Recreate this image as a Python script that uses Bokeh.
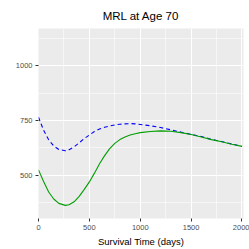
from bokeh.plotting import figure
from bokeh.models import Range1d, FixedTicker
from bokeh.embed import file_html
from bokeh.resources import INLINE

times = [0, 50, 100, 150, 200, 263, 300, 350, 400, 450, 500, 550, 600, 650, 700,
         750, 800, 850, 900, 950, 1000, 1100, 1200, 1300, 1400, 1500, 1600, 1700,
         1800, 1900, 2000]
mrl_dashed = [765, 706, 662, 634, 618, 612, 617, 630, 648, 668, 684, 700, 711, 719, 725,
              730, 733, 735, 736, 735, 732, 726, 718, 708, 697, 687, 677, 664,
              654, 643, 632]
mrl_solid = [525, 472, 424, 392, 372, 363, 366, 379, 404, 436, 470, 510, 553, 590, 622,
             646, 663, 675, 684, 690, 695, 700, 703, 701, 695, 686, 675, 663,
             653, 642, 632]
x_ticks = [0, 500, 1000, 1500, 2000]
y_ticks = [500, 750, 1000]

p = figure(width=249, height=249, output_backend="svg", toolbar_location=None,
           x_range=Range1d(0, 2015), y_range=Range1d(303, 1170),
           min_border_left=38, min_border_right=6, min_border_top=27, min_border_bottom=30,
           title="MRL at Age 70")
p.background_fill_color = "#EBEBEB"
p.border_fill_color = "white"
p.outline_line_color = None

p.title.align = "center"
p.title.text_font = "Liberation Sans"
p.title.text_font_size = "11.5px"
p.title.text_font_style = "normal"
p.title.text_color = "black"
p.title.offset = 0
p.title.standoff = 14

for ax in (p.xaxis[0], p.yaxis[0]):
    ax.axis_line_color = None
    ax.major_tick_line_color = "#333333"
    ax.major_tick_out = 3
    ax.major_tick_in = 0
    ax.minor_tick_line_color = None
    ax.major_label_text_font = "Liberation Sans"
    ax.major_label_text_font_size = "7.5px"
    ax.major_label_text_color = "#4D4D4D"
    ax.major_label_standoff = 2

p.xaxis.ticker = FixedTicker(ticks=x_ticks, minor_ticks=[250, 750, 1250, 1750])
p.yaxis.ticker = FixedTicker(ticks=y_ticks, minor_ticks=[375, 625, 875, 1125])
p.xaxis.axis_label = "Survival Time (days)"
p.xaxis.axis_label_text_font = "Liberation Sans"
p.xaxis.axis_label_text_font_size = "9.5px"
p.xaxis.axis_label_text_font_style = "normal"
p.xaxis.axis_label_text_color = "black"
p.xaxis.axis_label_standoff = 3

for g in (p.xgrid[0], p.ygrid[0]):
    g.grid_line_color = "white"
    g.grid_line_width = 1.1
    g.minor_grid_line_color = "white"
    g.minor_grid_line_width = 0.55

p.line(times, mrl_dashed, line_color="#0000FF", line_width=1.1, line_dash="4 3")
p.line(times, mrl_solid, line_color="#009E00", line_width=1.1)

open("out.html", "w").write(file_html(p, INLINE))
